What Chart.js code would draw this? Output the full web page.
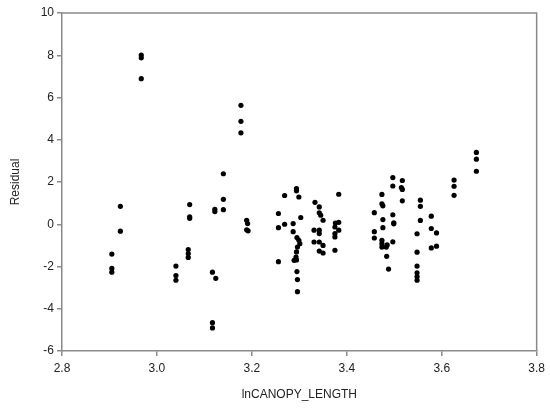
<!DOCTYPE html>
<html>
<head>
<meta charset="utf-8">
<script src="https://cdn.jsdelivr.net/npm/chart.js@4/dist/chart.umd.min.js"></script>
<style>
  html, body { margin:0; padding:0; background:#fff; }
  #wrap { width:550px; height:408px; position:relative; }
</style>
</head>
<body>
<div id="wrap"><canvas id="resid"></canvas></div>
<script>
/* ---- data ---- */
const lnCanopy = [
  2.905,2.905,2.905,2.923,2.923,
  2.967,2.967,2.967,
  3.040,3.040,3.040,
  3.069,3.069,3.069,3.066,3.066,3.066,
  3.117,3.124,3.117,3.117,3.122,3.122,
  3.140,3.140,3.140,
  3.177,3.177,3.177,
  3.189,3.191,3.189,3.192,
  3.256,3.256,3.256,3.269,3.269,3.287,3.287,3.294,3.294,3.299,3.303,3.295,3.299,3.301,3.296,3.294,3.293,3.289,3.294,3.295,3.296,3.296,
  3.333,3.342,3.342,3.345,3.350,3.331,3.342,3.342,3.331,3.342,3.350,3.342,3.350,
  3.383,3.376,3.383,3.375,3.383,3.375,3.375,3.375,
  3.458,3.474,3.474,3.476,3.476,3.476,3.458,3.458,3.474,3.474,3.474,3.483,3.484,3.488,3.485,
  3.497,3.497,3.517,3.515,3.517,3.517,3.497,3.499,3.499,3.497,
  3.555,3.555,3.555,3.548,3.548,3.548,3.548,3.548,3.548,
  3.578,3.578,3.589,3.589,3.578,
  3.626,3.626,3.626,
  3.673,3.673,3.673
];
const residual = [
  -1.41,-2.09,-2.27,0.85,-0.33,
  8.01,7.88,6.89,
  -1.98,-2.43,-2.65,
  0.93,0.35,0.28,-1.20,-1.39,-1.57,
  -2.27,-2.56,-4.66,-4.91,0.71,0.60,
  2.39,1.18,0.69,
  5.63,4.87,4.33,
  0.19,0.03,-0.26,-0.31,
  0.51,-0.16,-1.77,1.36,0.00,0.03,-0.35,1.69,1.58,1.29,0.32,-0.63,-0.76,-0.92,-1.08,-1.31,-1.55,-1.71,-1.69,-2.24,-2.62,-3.19,
  1.04,0.82,0.54,0.43,0.19,-0.28,-0.28,-0.44,-0.84,-0.84,-1.00,-1.27,-1.36,
  1.42,0.06,0.09,-0.13,-0.28,-0.44,-0.60,-1.23,
  0.55,1.41,0.97,0.87,0.22,-0.16,-0.35,-0.65,-0.76,-0.92,-1.08,-1.08,-1.52,-2.12,-0.98,
  2.21,1.81,2.07,1.74,1.65,1.11,0.45,0.07,0.02,-0.83,
  1.14,0.85,0.18,-0.45,-1.32,-1.98,-2.30,-2.48,-2.65,
  0.38,-0.20,-0.41,-1.04,-1.12,
  2.09,1.80,1.37,
  3.40,3.08,2.51
];
const xTicks = [2.8, 3.0, 3.2, 3.4, 3.6, 3.8];
const yTicks = [-6, -4, -2, 0, 2, 4, 6, 8, 10];

const points = lnCanopy.map((x,i)=>({ x, y: residual[i] }));
const AXIS = '#8a8a8a';
const FONT = { family:"'Liberation Sans', Arial, sans-serif", size:12 };

// plain frame on top and right, like the original plot box
const frame = {
  id:'frame',
  afterDraw(chart){
    const a = chart.chartArea, c = chart.ctx;
    c.save();
    c.strokeStyle = AXIS; c.lineWidth = 1.5;
    c.beginPath();
    c.moveTo(a.left, a.top); c.lineTo(a.right, a.top); c.lineTo(a.right, a.bottom);
    c.stroke();
    c.restore();
  }
};

new Chart(document.getElementById('resid'), {
  type:'scatter',
  data:{ datasets:[{
    data: points,
    backgroundColor:'#000', borderColor:'#000', borderWidth:0,
    pointRadius:2.6, pointHoverRadius:3
  }]},
  options:{
    responsive:true, maintainAspectRatio:false, animation:false,
    layout:{ padding:{ top:13, right:10, left:8, bottom:6 } },
    plugins:{ legend:{ display:false }, tooltip:{ enabled:false } },
    scales:{
      x:{
        type:'linear', min:2.8, max:3.8,
        afterBuildTicks: s => { s.ticks = xTicks.map(v=>({ value:v })); },
        afterFit: s => { s.height = 51; },
        border:{ color:AXIS, width:1.5 },
        grid:{ drawOnChartArea:false, drawTicks:true, tickLength:5, color:AXIS, lineWidth:1.5 },
        ticks:{ color:'#222', font:FONT, padding:5, callback: v => v.toFixed(1) },
        title:{ display:true, text:'lnCANOPY_LENGTH', color:'#222', font:FONT, padding:{ top:4, bottom:0 } }
      },
      y:{
        type:'linear', min:-6, max:10,
        afterBuildTicks: s => { s.ticks = yTicks.map(v=>({ value:v })); },
        afterFit: s => { s.width = 54; },
        border:{ color:AXIS, width:1.5 },
        grid:{ drawOnChartArea:false, drawTicks:true, tickLength:5, color:AXIS, lineWidth:1.5 },
        ticks:{ color:'#222', font:FONT, padding:3 },
        title:{ display:true, text:'Residual', color:'#222', font:FONT, padding:{ top:0, bottom:4 } }
      }
    }
  },
  plugins:[frame]
});
</script>
</body>
</html>
